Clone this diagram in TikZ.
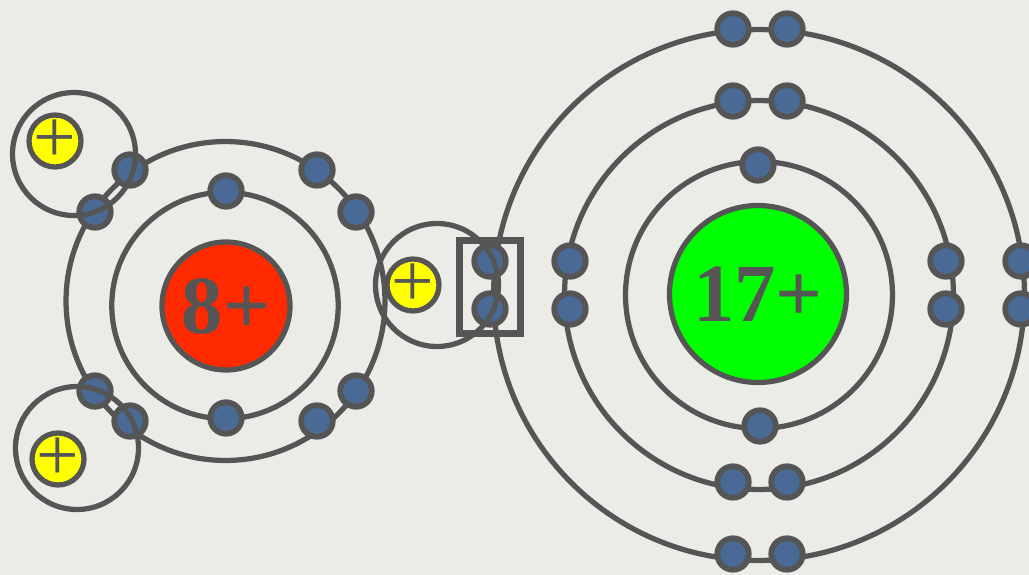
\documentclass[tikz,border=0pt]{standalone}
\usepackage{fontspec}
\setmainfont{Liberation Serif}
\usepackage{xcolor}
\usepackage{tikz}
\definecolor{ink}{HTML}{555555}
\definecolor{paper}{HTML}{EBEBE8}
\definecolor{shellblue}{HTML}{4A6A96}
\definecolor{oxred}{HTML}{FF2A00}
\definecolor{clgreen}{HTML}{00FF00}
\definecolor{hyellow}{HTML}{FFFF00}
\newcommand{\hplus}{\makebox[0pt]{\raisebox{-2.4pt}{+}}}

\begin{document}
\begin{tikzpicture}[
    x=0.02cm, y=-0.02cm,
    orbit/.style={circle, draw=ink, line width=0.105cm, inner sep=0},
    nucleus/.style={circle, draw=ink, line width=0.105cm, inner sep=0, text=ink, font=\fontsize{47}{47}\selectfont\bfseries},
    electron/.style={circle, draw=ink, fill=shellblue, line width=0.115cm, inner sep=0, minimum size=0.63cm},
    proton/.style={circle, draw=ink, fill=hyellow, line width=0.105cm, inner sep=0, minimum size=1.04cm, text=ink, font=\fontsize{43}{43}\selectfont},
    hshell/.style={orbit, minimum size=2.46cm},
    pairbox/.style={rectangle, draw=ink, line width=0.125cm, inner sep=0, minimum width=1.22cm, minimum height=1.86cm}
]
    \useasboundingbox (0,0) rectangle (1029,575);
    \clip (0,0) rectangle (1029,575);
    \fill[paper] (0,0) rectangle (1029,575);

    % Oxygen shells
    \node[orbit, minimum size=4.53cm] (oinner) at (225,305.5) {};
    \node[orbit, minimum size=6.38cm] (oouter) at (225.5,301) {};
    \node[nucleus, fill=oxred, minimum size=2.56cm] (onuc) at (226,306) {8+};

    % Chlorine shells
    \node[orbit, minimum size=5.34cm] (clinner) at (759,295) {};
    \node[orbit, minimum size=7.78cm] (clmiddle) at (759,295) {};
    \node[orbit, minimum size=10.62cm] (clouter) at (759,295) {};
    \node[nucleus, fill=clgreen, minimum size=3.54cm] (clnuc) at (758,294) {17+};

    % Oxygen electrons
    \node[electron] (oa) at (226,191) {};
    \node[electron] (ob) at (226,418) {};
    \node[electron] (oc) at (317,170) {};
    \node[electron] (od) at (356,212) {};
    \node[electron] (oe) at (356,391) {};
    \node[electron] (of) at (317,421) {};
    \node[electron] (og) at (130,170) {};
    \node[electron] (oh) at (95,212) {};
    \node[electron] (oi) at (95,391) {};
    \node[electron] (oj) at (130,421) {};

    % Chlorine electrons
    \node[electron] (cla) at (758,165) {};
    \node[electron] (clb) at (760,426) {};
    \node[electron] (clc) at (733,101) {};
    \node[electron] (cld) at (787,101) {};
    \node[electron] (cle) at (733,482) {};
    \node[electron] (clf) at (787,482) {};
    \node[electron] (clg) at (570,261) {};
    \node[electron] (clh) at (570,309) {};
    \node[electron] (cli) at (946,261) {};
    \node[electron] (clj) at (946,309) {};
    \node[electron] (clk) at (733,29) {};
    \node[electron] (cll) at (787,29) {};
    \node[electron] (clm) at (733,554) {};
    \node[electron] (cln) at (787,554) {};
    \node[electron] (clo) at (490,261) {};
    \node[electron] (clp) at (490,309) {};
    \node[electron] (clq) at (1021,261) {};
    \node[electron] (clr) at (1021,309) {};

    % Hydrogen atoms
    \node[hshell] (htop) at (74,154) {};
    \node[hshell] (hbot) at (77,448) {};
    \node[hshell] (hmid) at (437,285) {};
    \node[proton] (ptop) at (55,141) {\hplus};
    \node[proton] (pbot) at (58,459) {\hplus};
    \node[proton] (pmid) at (413,285) {\hplus};

    % Shared pair
    \node[pairbox] (pair) at (490,287) {};
\end{tikzpicture}
\end{document}
